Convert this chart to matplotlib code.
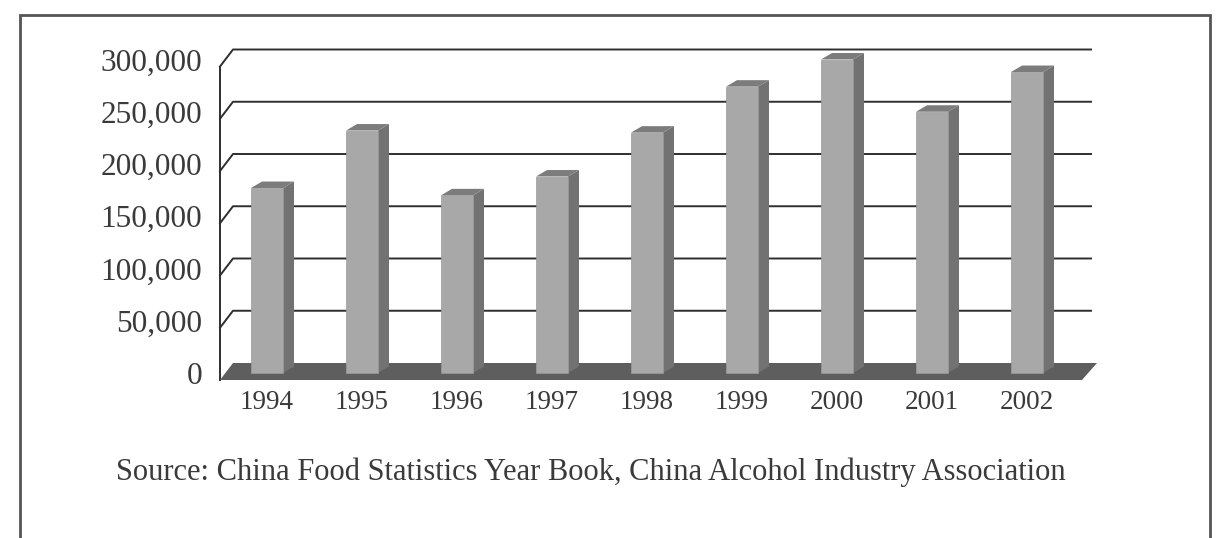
import matplotlib.pyplot as plt
import numpy as np
from matplotlib.patches import Polygon, Rectangle

# data
years = ['1994', '1995', '1996', '1997', '1998', '1999', '2000', '2001', '2002']
output = [177000, 232000, 170000, 188000, 230000, 274000, 300000, 250000, 288000]
y_ticks = [0, 50000, 100000, 150000, 200000, 250000, 300000]
source = 'Source: China Food Statistics Year Book, China Alcohol Industry Association'

plt.rcParams['font.family'] = ['Liberation Serif', 'DejaVu Serif']
TXT = '#3a3a3a'

W, H = 1217, 538
fig = plt.figure(figsize=(W / 100, H / 100), dpi=100)

# axes box in pixels (from top-left)
ax_l, ax_r, ax_t, ax_b = 220, 1100, 45, 385
ax = fig.add_axes([ax_l / W, 1 - ax_b / H, (ax_r - ax_l) / W, (ax_b - ax_t) / H])

# pixel scale of the oblique "3d" view
x0_px, step_px = 267, 95      # centre of first bar, bar spacing
zero_px, k_px = 373, 1.045e-3  # baseline of bar fronts, pixels per unit
ax.set_xlim((ax_l - x0_px) / step_px, (ax_r - x0_px) / step_px)
ax.set_ylim((zero_px - ax_b) / k_px, (zero_px - ax_t) / k_px)


def cx(px):
    return (px - x0_px) / step_px


def dx(p):
    return p / step_px


def dy(p):
    return p / k_px


# planes relative to the bar front plane (pixel offsets, up positive)
front_y = dy(-7)
back_y = dy(10)
fl, fr = cx(220), cx(1082)
bl, br = cx(233), cx(1097)
grid_r = cx(1091)

# back wall gridlines with their short slanted side-wall segment
for v in y_ticks[1:]:
    ax.plot([fl, bl, grid_r], [v + front_y, v + back_y, v + back_y],
            color='#2e2e2e', lw=1.4, zorder=1, clip_on=False)
ax.plot([fl, fl], [front_y, y_ticks[-1] + front_y], color='#2e2e2e', lw=1.4,
        zorder=1, clip_on=False)

# floor
ax.add_patch(Polygon([(fl, front_y), (fr, front_y), (br, back_y), (bl, back_y)],
                     closed=True, facecolor='#5e5e5e', edgecolor='none',
                     zorder=2, clip_on=False))

# bars: front face plus side and top faces
x = np.arange(len(years))
bw = 32 / step_px
ddx, ddy = dx(11), dy(6.5)
ax.bar(x, output, width=bw, color='#a8a8a8', edgecolor='#9a9a9a', lw=0.5, zorder=4)
for xi, v in zip(x, output):
    r = xi + bw / 2
    l = xi - bw / 2
    ax.add_patch(Polygon([(r, 0), (r, v), (r + ddx, v + ddy), (r + ddx, ddy)],
                         closed=True, facecolor='#727272', edgecolor='none', zorder=3))
    ax.add_patch(Polygon([(l, v), (r, v), (r + ddx, v + ddy), (l + ddx, v + ddy)],
                         closed=True, facecolor='#7c7c7c', edgecolor='none', zorder=3))

# year labels under the floor
for xi, yr in zip(x, years):
    ax.text(xi, dy(-29.5), yr, ha='center', va='center', fontsize=19.5,
            color=TXT, clip_on=False)

ax.set_yticks(y_ticks)
ax.set_yticklabels([f'{v:,}' for v in y_ticks], fontsize=22.5, color=TXT)
ax.tick_params(axis='y', length=0, pad=13)
ax.set_xticks([])
for s in ax.spines.values():
    s.set_visible(False)
ax.patch.set_alpha(0)

fig.text(591 / W, 1 - 472.5 / H, source, ha='center', va='center',
         fontsize=22, color=TXT)

# frame of the figure box (runs off the bottom of the scan)
fig.add_artist(Rectangle((20 / W, -0.1), 1190 / W, 1.1 - 15 / H,
                         transform=fig.transFigure, fill=False,
                         edgecolor='#555555', lw=2))

fig.savefig('out.png', dpi=100)
